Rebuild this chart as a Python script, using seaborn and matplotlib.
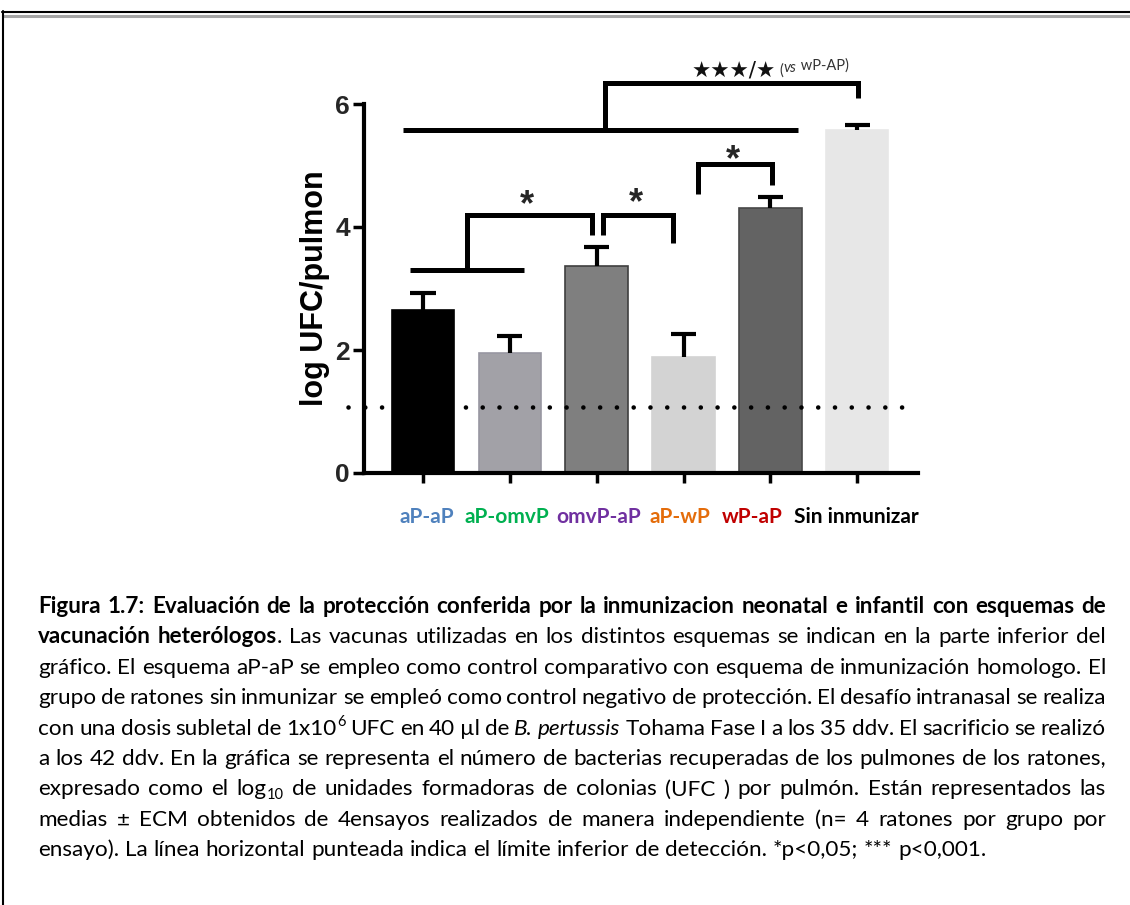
import numpy as np
import pandas as pd
import matplotlib
matplotlib.use("Agg")
import matplotlib.pyplot as plt
from matplotlib.lines import Line2D
import seaborn as sns

# ---------------- data ----------------
groups = ["aP-aP", "aP-omvP", "omvP-aP", "aP-wP", "wP-aP", "Sin inmunizar"]
log_ufc = [2.65, 1.95, 3.36, 1.89, 4.31, 5.58]
sem = [0.28, 0.28, 0.32, 0.37, 0.18, 0.08]
detection_limit = 1.07
yticks = [0, 2, 4, 6]
bar_colors = ["#000000", "#A2A1A7", "#7F7F7F", "#D3D3D3", "#636363", "#E7E7E7"]
bar_edges = ["#000000", "#9897A2", "#3F3F3F", "#D3D3D3", "#484848", "#E7E7E7"]
label_colors = ["#4F81BD", "#00B050", "#7030A0", "#E46C0A", "#C00000", "#000000"]
label_gaps_pt = [7.2, 5.0, 5.8, 8.6, 7.9]

# significance brackets (data coordinates, annotation layout)
brackets = [
    [(-0.15, 3.30), (1.16, 3.30)],
    [(0.51, 3.30), (0.51, 4.19), (1.95, 4.19), (1.95, 3.87)],
    [(2.07, 3.87), (2.07, 4.19), (2.88, 4.19), (2.88, 3.74)],
    [(3.17, 4.54), (3.17, 5.02), (4.02, 5.02), (4.02, 4.68)],
    [(-0.23, 5.58), (4.32, 5.58)],
    [(2.09, 5.58), (2.09, 6.34), (5.01, 6.34), (5.01, 6.10)],
]
stars = [(1.20, 4.20), (2.45, 4.22), (3.57, 4.93)]

caption_lines = [
    [("Figura 1.7: Evaluación de la protección conferida por la inmunizacion neonatal e infantil con esquemas de", "b")],
    [("vacunación heterólogos", "b"),
     (". Las vacunas utilizadas en los distintos esquemas se indican en la parte inferior del", "n")],
    [("gráfico. El esquema aP-aP se empleo como control comparativo con esquema de inmunización homologo. El", "n")],
    [("grupo de ratones sin inmunizar se empleó como control negativo de protección. El desafío intranasal se realiza", "n")],
    [("con una dosis subletal de 1x10", "n"), ("6", "sup"), (" UFC en 40 µl de ", "n"),
     ("B. pertussis", "i"), (" Tohama Fase I a los 35 ddv. El sacrificio se realizó", "n")],
    [("a los 42 ddv. En la gráfica se representa el número de bacterias recuperadas de los pulmones de los ratones,", "n")],
    [("expresado como el log", "n"), ("10", "sub"),
     (" de unidades formadoras de colonias (UFC ) por pulmón. Están representados las", "n")],
    [("medias ± ECM obtenidos de 4ensayos realizados de manera independiente (n= 4 ratones por grupo por", "n")],
    [("ensayo). La línea horizontal punteada indica el límite inferior de detección. *p<0,05; *** p<0,001.", "n")],
]

# ---------------- figure ----------------
sns.set_theme(style="white")
plt.rcParams["font.family"] = ["Liberation Sans", "DejaVu Sans"]

W, H = 1130, 905
fig = plt.figure(figsize=(W / 100, H / 100), dpi=100)
fig.patch.set_facecolor("white")


def fx(x):
    return x / W


def fy(y):
    return 1 - y / H


ax = fig.add_axes([fx(364), fy(473), 554 / W, 369 / H])
df = pd.DataFrame({"group": groups, "value": log_ufc})
sns.barplot(data=df, x="group", y="value", hue="group", palette=bar_colors,
            legend=False, width=0.72, saturation=1, errorbar=None, ax=ax, zorder=2)
for p, ec in zip(ax.patches, bar_edges):
    p.set_edgecolor(ec)
    p.set_linewidth(1.2)

ax.set_xlim(-0.68, 5.70)
ax.set_ylim(0, 6)

# error bars (upper SEM only)
xpos = np.arange(len(groups))
tops = np.array(log_ufc) + np.array(sem)
ax.vlines(xpos, log_ufc, tops, color="black", lw=3, zorder=4)
ax.hlines(tops, xpos - 0.145, xpos + 0.145, color="black", lw=3, zorder=4)

# detection limit dotted line
ax.plot([-0.86, 5.61], [detection_limit, detection_limit], color="black", lw=3.3,
        linestyle=(0, (0.01, 3.65)), dash_capstyle="round", clip_on=False, zorder=5)

# spines / ticks
for s in ["top", "right"]:
    ax.spines[s].set_visible(False)
for s in ["left", "bottom"]:
    ax.spines[s].set_linewidth(3)
    ax.spines[s].set_color("black")
ax.set_yticks(yticks)
ax.set_yticklabels([str(v) for v in yticks], fontsize=19, fontweight="bold")
ax.tick_params(axis="y", left=True, length=8, width=2.5, color="black", pad=2)
ax.set_xticks(xpos)
ax.set_xticklabels([])
ax.tick_params(axis="x", bottom=True, length=7, width=2.5, color="black")
ax.set_xlabel("")
ax.set_ylabel("log UFC/pulmon", fontsize=22, fontweight="bold", color="black")
ax.yaxis.set_label_coords(-0.062, 0.5)

# brackets
for br in brackets:
    xs, ys = zip(*br)
    ax.plot(xs, ys, color="black", lw=3.6, solid_capstyle="butt",
            solid_joinstyle="miter", clip_on=False, zorder=6)
for sx, sy in stars:
    ax.text(sx, sy, "*", fontsize=26, fontweight="bold", ha="center", va="baseline",
            clip_on=False, zorder=6)

t_top = ax.text(3.09, 6.44, "★★★/★", fontsize=15.5, ha="left", va="baseline",
                family=["DejaVu Sans"], color="#111111", clip_on=False)
prev = t_top
for piece, st, dx in [("(", "normal", 3), ("vs", "italic", 0), (" wP-AP)", "normal", 0)]:
    prev = ax.annotate(piece, xy=(1, 0), xycoords=prev, xytext=(dx, 2),
                       textcoords="offset points", ha="left", va="bottom",
                       fontsize=10.5, family=["Lato", "DejaVu Sans"], fontstyle=st,
                       color="#333333", annotation_clip=False)

# coloured group labels under the axis
lab_kw = dict(fontsize=15, fontweight="bold", family=["Lato", "DejaVu Sans"])
prev = fig.text(fx(400), fy(523), groups[0], color=label_colors[0], ha="left",
                va="baseline", **lab_kw)
for g, c, gap in zip(groups[1:], label_colors[1:], label_gaps_pt):
    prev = ax.annotate(g, xy=(1, 0), xycoords=prev, xytext=(gap, 0),
                       textcoords="offset points", ha="left", va="bottom",
                       color=c, annotation_clip=False, **lab_kw)

# ---------------- caption (justified) ----------------
cap_left, cap_right = 38, 1106
cap_base0, cap_step = 613, 30.4
cap_size = 16.2
cap_family = ["Lato", "DejaVu Sans"]

fig.canvas.draw()
renderer = fig.canvas.get_renderer()


def words_from_segments(segs):
    words = [[]]
    for text, style in segs:
        parts = text.split(" ")
        for k, p in enumerate(parts):
            if k > 0:
                words.append([])
            if p:
                words[-1].append((p, style))
    return [w for w in words if w]


def make_text(text, st, size):
    kw = dict(fontsize=size, family=cap_family, ha="left", va="baseline", color="black")
    dy = 0.0
    if st == "b":
        kw["fontweight"] = "bold"
    elif st == "i":
        kw["fontstyle"] = "italic"
    elif st == "sup":
        kw["fontsize"] = size * 0.65
        dy = -size * 1.389 * 0.38
    elif st == "sub":
        kw["fontsize"] = size * 0.65
        dy = size * 1.389 * 0.14
    t = fig.text(0, 0, text, **kw)
    return t, dy


def space_width(size):
    ta = fig.text(0, 0, "a a", fontsize=size, family=cap_family)
    tb = fig.text(0, 0, "aa", fontsize=size, family=cap_family)
    w = ta.get_window_extent(renderer).width - tb.get_window_extent(renderer).width
    ta.remove()
    tb.remove()
    return w


def layout_line(segs, size):
    words = words_from_segments(segs)
    placed, widths = [], []
    for w in words:
        items, ww = [], 0.0
        for text, st in w:
            t, dy = make_text(text, st, size)
            wpx = t.get_window_extent(renderer).width
            items.append((t, ww, dy))
            ww += wpx
        placed.append(items)
        widths.append(ww)
    return placed, widths


# make sure the widest line fits with a minimal word gap
size = cap_size
for _ in range(12):
    sw = space_width(size)
    ok = True
    for segs in caption_lines[:-1]:
        placed, widths = layout_line(segs, size)
        for items in placed:
            for t, _o, _d in items:
                t.remove()
        need = sum(widths) + 0.6 * sw * (len(widths) - 1)
        if need > cap_right - cap_left:
            ok = False
            break
    if ok:
        break
    size -= 0.2

sw = space_width(size)
for li, segs in enumerate(caption_lines):
    base_y = cap_base0 + li * cap_step
    placed, widths = layout_line(segs, size)
    if li < len(caption_lines) - 1 and len(widths) > 1:
        gap = (cap_right - cap_left - sum(widths)) / (len(widths) - 1)
    else:
        gap = sw
    x = cap_left
    for items, ww in zip(placed, widths):
        for t, off, dy in items:
            t.set_position((fx(x + off), fy(base_y + dy)))
        x += ww + gap

# ---------------- page frame ----------------
fig.add_artist(Line2D([fx(2), 1], [fy(12), fy(12)], transform=fig.transFigure,
                      color="black", lw=1.5))
fig.add_artist(Line2D([fx(3), 1], [fy(15.8), fy(15.8)], transform=fig.transFigure,
                      color="#A6A6A6", lw=2.2))
fig.add_artist(Line2D([fx(3.3), fx(3.3)], [fy(11), 0], transform=fig.transFigure,
                      color="black", lw=1.5))

fig.savefig("out.png", dpi=100, facecolor="white")
